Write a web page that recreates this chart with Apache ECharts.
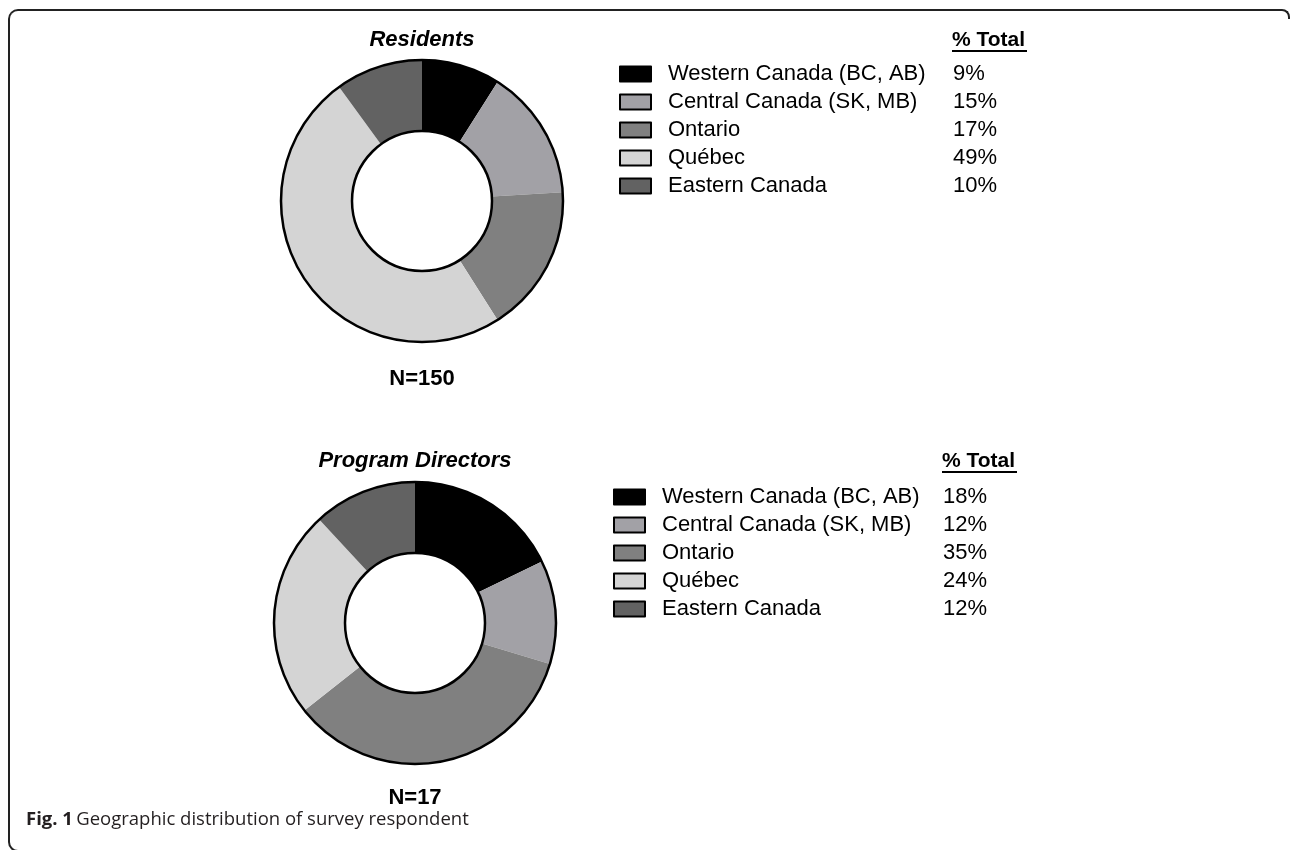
<!DOCTYPE html>
<html>
<head>
<meta charset="utf-8">
<script src="https://cdn.jsdelivr.net/npm/echarts@6/dist/echarts.min.js"></script>
<style>
  html, body { margin: 0; padding: 0; background: #fff; }
  #wrap { position: relative; width: 1292px; height: 850px; overflow: hidden; }
  .edge { position: absolute; box-sizing: border-box; border-color: #222; border-style: solid; border-width: 0; }
  #frame { left: 8px; top: 9px; width: 1270px; height: 830px; border-left-width: 2px; border-top-width: 2px; border-top-left-radius: 10px; }
  #cornerTR { left: 1270px; top: 9px; width: 20px; height: 10px; border-top-width: 2px; border-right-width: 2px; border-top-right-radius: 8px; }
  #cornerBL { left: 8px; top: 834px; width: 20px; height: 18px; border-left-width: 2px; border-bottom-width: 2px; border-bottom-left-radius: 10px; }
  #chart { position: absolute; left: 0; top: 0; width: 1292px; height: 850px; }
</style>
</head>
<body>
<div id="wrap">
  <div id="frame" class="edge"></div>
  <div id="cornerTR" class="edge"></div>
  <div id="cornerBL" class="edge"></div>
  <div id="chart"></div>
</div>
<script>
// regions and shares
const regions = ["Western Canada (BC, AB)", "Central Canada (SK, MB)", "Ontario", "Québec", "Eastern Canada"];
const residentsPct = [9, 15, 17, 49, 10];
const directorsPct = [18, 12, 35, 24, 12];
const shades = ["#000000", "#a2a1a6", "#808080", "#d4d4d4", "#626262"];
const panelTitles = ["Residents", "Program Directors"];
const sampleSizes = [150, 17];

const font = "'Liberation Sans', Arial, Helvetica, sans-serif";

// layout of the two panels
const panels = [
  { center: [422, 201], legendLeft: 619, legendTop: 63, nameWidth: 285, headX: 952, headY: 40, nY: 379 },
  { center: [415, 623], legendLeft: 613, legendTop: 486, nameWidth: 281, headX: 942, headY: 461, nY: 798 },
];
const radius = [70, 141];

let myChart = echarts.init(document.getElementById("chart"));

function pieSeries(i, values) {
  return {
    type: "pie",
    name: panelTitles[i],
    center: panels[i].center,
    radius: radius,
    startAngle: 90,
    clockwise: true,
    silent: true,
    label: { show: false },
    labelLine: { show: false },
    emphasis: { disabled: true },
    itemStyle: { borderWidth: 0 },
    data: regions.map(function (r, k) {
      return { name: r, value: values[k], itemStyle: { color: shades[k] } };
    }),
  };
}

// black outline on the outer and inner edge of each ring
function ringSeries(i) {
  return {
    type: "pie",
    center: panels[i].center,
    radius: radius,
    silent: true,
    z: 5,
    label: { show: false },
    labelLine: { show: false },
    emphasis: { disabled: true },
    itemStyle: { color: "rgba(0,0,0,0)", borderColor: "#000", borderWidth: 2.5 },
    data: [{ name: "ring" + i, value: 1 }],
  };
}

function legendFor(i, values) {
  return {
    orient: "vertical",
    left: panels[i].legendLeft,
    top: panels[i].legendTop,
    padding: 0,
    itemWidth: 31,
    itemHeight: 15,
    itemGap: 6,
    icon: "rect",
    selectedMode: false,
    data: regions,
    itemStyle: { borderColor: "#000", borderWidth: 2 },
    formatter: function (name) {
      return "{n|" + name + "}{p|" + values[regions.indexOf(name)] + "%}";
    },
    textStyle: {
      rich: {
        n: { fontFamily: font, fontSize: 22, color: "#000", width: panels[i].nameWidth, padding: [0, 0, 0, 12] },
        p: { fontFamily: font, fontSize: 22, color: "#000" },
      },
    },
  };
}

let graphics = [];
panels.forEach(function (p, i) {
  graphics.push({
    type: "text",
    x: p.center[0], y: p.headY,
    style: { text: panelTitles[i], font: "italic bold 22px " + font, fill: "#000", align: "center", verticalAlign: "middle" },
  });
  graphics.push({
    type: "text",
    x: p.center[0], y: p.nY,
    style: { text: "N=" + sampleSizes[i], font: "bold 22px " + font, fill: "#000", align: "center", verticalAlign: "middle" },
  });
  graphics.push({
    type: "text",
    x: p.headX, y: p.headY,
    style: { text: "% Total", font: "bold 21px " + font, fill: "#000", align: "left", verticalAlign: "middle" },
  });
  graphics.push({
    type: "line",
    shape: { x1: p.headX, y1: p.headY + 11, x2: p.headX + 75, y2: p.headY + 11 },
    style: { stroke: "#000", lineWidth: 2 },
  });
});
graphics.push({
  type: "text",
  x: 26, y: 820,
  style: {
    text: "{b|Fig. 1} {r|Geographic distribution of survey respondent}",
    verticalAlign: "middle",
    rich: {
      b: { fontFamily: "'Open Sans', sans-serif", fontWeight: "bold", fontSize: 18.5, fill: "#231f20" },
      r: { fontFamily: "'Open Sans', sans-serif", fontSize: 18.5, fill: "#231f20" },
    },
  },
});

let option = {
  animation: false,
  legend: [legendFor(0, residentsPct), legendFor(1, directorsPct)],
  series: [pieSeries(0, residentsPct), pieSeries(1, directorsPct), ringSeries(0), ringSeries(1)],
  graphic: graphics,
};

myChart.setOption(option);
window.addEventListener("resize", function () {
  myChart.resize();
});
</script>
</body>
</html>
